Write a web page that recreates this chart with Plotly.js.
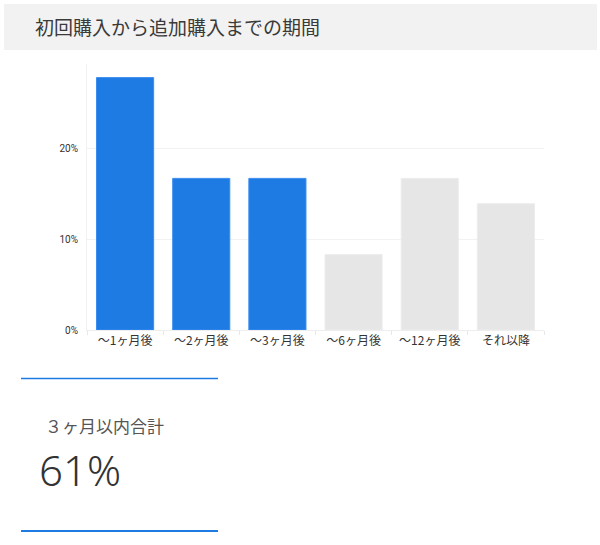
<!DOCTYPE html>
<html>
<head>
<meta charset="utf-8">
<script src="https://cdn.plot.ly/plotly-3.0.1.min.js"></script>
<style>
  html, body { margin: 0; padding: 0; background: #fff; }
  #chart { width: 600px; height: 545px; }
</style>
</head>
<body>
<div id="chart"></div>
<script>
const categories = ['〜1ヶ月後', '〜2ヶ月後', '〜3ヶ月後', '〜6ヶ月後', '〜12ヶ月後', 'それ以降'];
const shares = [0.278, 0.167, 0.167, 0.083, 0.167, 0.139];
const withinThreeMonths = [true, true, true, false, false, false];
const yTicks = [0, 0.1, 0.2];

const titleText = '初回購入から追加購入までの期間';
const kpiLabel = '３ヶ月以内合計';

const BLUE = '#1e7be3';
const GREY = '#e6e6e6';
const JP = '"Noto Sans CJK JP", "Noto Sans", sans-serif';

// plot area in pixels, used to place the decorations around it
const W = 600, H = 545;
const L = 87, R = 544, T = 64, B = 330;
const xp = px => (px - L) / (R - L);
const yp = py => (B - py) / (B - T);

const kpi = shares.filter((v, i) => withinThreeMonths[i]).reduce((a, b) => a + b, 0);

const bars = {
  type: 'bar',
  x: categories,
  y: shares,
  marker: {
    color: withinThreeMonths.map(h => h ? BLUE : GREY),
    line: { color: withinThreeMonths.map(h => h ? '#3a8df0' : '#ececec'), width: 1 }
  },
  hoverinfo: 'skip'
};

const layout = {
  width: W,
  height: H,
  margin: { l: L, r: W - R, t: T, b: H - B, pad: 0 },
  paper_bgcolor: '#fff',
  plot_bgcolor: '#fff',
  showlegend: false,
  bargap: 0.25,
  font: { family: JP, color: '#333' },
  xaxis: {
    type: 'category',
    showgrid: false,
    showline: true,
    linecolor: '#eeeeee',
    ticks: 'outside',
    tickson: 'boundaries',
    ticklen: 4,
    tickcolor: '#e8e8e8',
    tickfont: { family: JP, size: 12, color: '#333' },
    fixedrange: true
  },
  yaxis: {
    range: [0, 0.293],
    tickvals: yTicks,
    tickformat: '.0%',
    showgrid: true,
    gridcolor: '#f2f2f2',
    zeroline: false,
    showline: true,
    linecolor: '#f2f2f2',
    ticks: '',
    ticklabelstandoff: 6,
    tickfont: { family: 'Roboto, sans-serif', size: 10, color: '#333' },
    fixedrange: true
  },
  shapes: [
    { type: 'rect', xref: 'paper', yref: 'paper', layer: 'below',
      x0: xp(4), x1: xp(597), y0: yp(50), y1: yp(4),
      fillcolor: '#f2f2f2', line: { width: 0 } },
    { type: 'line', xref: 'paper', yref: 'paper',
      x0: xp(21), x1: xp(218), y0: yp(378.5), y1: yp(378.5),
      line: { color: BLUE, width: 1.5 } },
    { type: 'line', xref: 'paper', yref: 'paper',
      x0: xp(21), x1: xp(218), y0: yp(531), y1: yp(531),
      line: { color: BLUE, width: 2 } }
  ],
  annotations: [
    { text: titleText, xref: 'paper', yref: 'paper', x: xp(33), y: yp(27),
      xanchor: 'left', yanchor: 'middle', showarrow: false,
      font: { family: JP, size: 19, color: '#3a3a3a', weight: 400 } },
    { text: kpiLabel, xref: 'paper', yref: 'paper', x: xp(43), y: yp(425),
      xanchor: 'left', yanchor: 'middle', showarrow: false,
      font: { family: JP, size: 17, color: '#555' } },
    { text: Math.round(kpi * 100) + '%', xref: 'paper', yref: 'paper', x: xp(37), y: yp(469),
      xanchor: 'left', yanchor: 'middle', showarrow: false,
      font: { family: '"Noto Sans", sans-serif', size: 42, color: '#333', weight: 300 } }
  ]
};

Plotly.newPlot('chart', [bars], layout, { displayModeBar: false, staticPlot: true });
</script>
</body>
</html>
